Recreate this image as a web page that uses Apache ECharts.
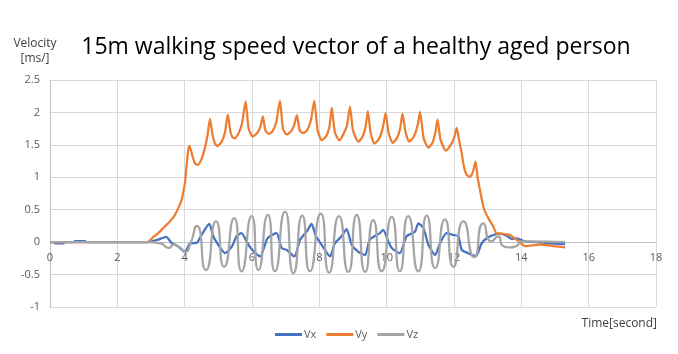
<!DOCTYPE html>
<html>
<head>
<meta charset="utf-8">
<script src="https://cdn.jsdelivr.net/npm/echarts@6/dist/echarts.min.js"></script>
<style>
  html, body { margin: 0; padding: 0; background: #fff; }
  #chart { width: 678px; height: 354px; }
</style>
</head>
<body>
<div id="chart"></div>
<script>
// [time (s), velocity] pairs
const vxPoints = [
  [0, 0], [0.12, 0], [0.15, -0.02], [0.4, -0.02], [0.45, 0], [0.72, 0], [0.74, 0.015], [1.04, 0.015], [1.08, 0],
  [2.87, 0], [3.17, 0.03], [3.45, 0.08], [3.61, -0.01], [3.81, -0.07], [4.01, -0.15], [4.16, -0.02], [4.36, -0.01],
  [4.5, 0.11], [4.73, 0.28], [4.85, 0.09], [4.97, -0.02], [5.2, -0.17], [5.4, -0.07], [5.54, 0.09], [5.69, 0.14],
  [5.84, 0.01], [5.96, -0.09], [6.24, -0.22], [6.44, 0.04], [6.53, 0.09], [6.73, 0.14], [6.88, -0.09], [7.03, -0.12],
  [7.26, -0.22], [7.43, 0.04], [7.62, 0.16], [7.77, 0.28], [7.9, 0.09], [8.04, -0.02], [8.32, -0.22], [8.46, -0.02],
  [8.66, 0.09], [8.81, 0.2], [8.96, -0.04], [9.16, -0.15], [9.36, -0.2], [9.5, 0.04], [9.8, 0.14], [9.9, 0.19],
  [10.05, 0.01], [10.15, -0.09], [10.39, -0.17], [10.59, 0.09], [10.84, 0.16], [10.94, 0.29], [11.09, 0.22],
  [11.24, -0.04], [11.44, -0.2], [11.58, -0.02], [11.78, 0.14], [11.98, 0.11], [12.13, 0.09], [12.23, -0.12],
  [12.42, -0.17], [12.65, -0.22], [12.82, -0.02], [12.97, 0.06], [13.17, 0.11], [13.37, 0.13], [13.56, 0.1],
  [13.71, 0.05], [13.86, 0.06], [14.11, 0.01], [14.45, 0.0], [14.85, -0.02], [15.3, -0.03]
];

const vyPoints = [
  [0, 0], [2.9, 0], [3.07, 0.08], [3.2, 0.13], [3.37, 0.22], [3.51, 0.29], [3.56, 0.32], [3.66, 0.38], [3.76, 0.47],
  [3.85, 0.57], [3.91, 0.65], [3.97, 0.8], [4.01, 0.92], [4.06, 1.19], [4.1, 1.4], [4.14, 1.49], [4.22, 1.35],
  [4.3, 1.22], [4.39, 1.19], [4.5, 1.28], [4.6, 1.45], [4.68, 1.65], [4.75, 1.9], [4.83, 1.65], [4.9, 1.52],
  [4.97, 1.48], [5.1, 1.55], [5.2, 1.7], [5.28, 1.97], [5.36, 1.7], [5.42, 1.62], [5.49, 1.6], [5.6, 1.68],
  [5.7, 1.82], [5.81, 2.17], [5.9, 1.75], [6.02, 1.63], [6.15, 1.68], [6.25, 1.78], [6.32, 1.94], [6.4, 1.72],
  [6.5, 1.67], [6.6, 1.7], [6.72, 1.85], [6.83, 2.18], [6.92, 1.75], [7.03, 1.66], [7.15, 1.7], [7.25, 1.8],
  [7.33, 1.96], [7.42, 1.72], [7.52, 1.68], [7.63, 1.72], [7.75, 1.88], [7.85, 2.18], [7.95, 1.72], [8.07, 1.57],
  [8.2, 1.63], [8.3, 1.78], [8.37, 2.07], [8.46, 1.7], [8.59, 1.57], [8.7, 1.65], [8.82, 1.8], [8.91, 2.09],
  [9.0, 1.72], [9.16, 1.55], [9.28, 1.62], [9.37, 1.77], [9.44, 2.02], [9.52, 1.7], [9.63, 1.52], [9.76, 1.58],
  [9.88, 1.75], [9.97, 1.99], [10.06, 1.68], [10.18, 1.53], [10.3, 1.6], [10.4, 1.75], [10.47, 1.98], [10.56, 1.7],
  [10.67, 1.55], [10.8, 1.62], [10.92, 1.8], [10.99, 2.01], [11.1, 1.6], [11.24, 1.46], [11.35, 1.52], [11.45, 1.7],
  [11.51, 1.89], [11.6, 1.58], [11.76, 1.41], [11.88, 1.48], [12.0, 1.6], [12.08, 1.76], [12.16, 1.55],
  [12.23, 1.37], [12.3, 1.15], [12.37, 1.04], [12.47, 1.01], [12.56, 1.08], [12.64, 1.24], [12.7, 1.0],
  [12.77, 0.81], [12.87, 0.55], [12.95, 0.44], [13.02, 0.37], [13.1, 0.3], [13.17, 0.24], [13.27, 0.13],
  [13.42, 0.13], [13.55, 0.12], [13.66, 0.11], [13.8, 0.06], [13.91, 0.02], [14.11, -0.06], [14.55, -0.04],
  [14.95, -0.06], [15.3, -0.08]
];

const vzPoints = [
  [0, 0], [2.87, 0], [3.27, -0.02], [3.54, -0.09], [3.66, -0.04], [3.85, -0.08], [4.01, -0.15], [4.16, -0.04],
  [4.36, 0.25], [4.63, -0.43], [4.93, 0.32], [5.17, -0.38], [5.47, 0.37], [5.69, -0.45], [5.99, 0.4], [6.19, -0.43],
  [6.47, 0.42], [6.68, -0.45], [6.98, 0.47], [7.23, -0.48], [7.49, 0.41], [7.72, -0.45], [8.04, 0.44], [8.29, -0.47],
  [8.58, 0.4], [8.86, -0.46], [9.11, 0.42], [9.36, -0.46], [9.6, 0.34], [9.85, -0.45], [10.15, 0.39], [10.39, -0.45],
  [10.64, 0.4], [10.94, -0.45], [11.19, 0.41], [11.44, -0.4], [11.73, 0.35], [11.98, -0.38], [12.28, 0.32],
  [12.6, -0.23], [12.87, 0.29], [13.11, 0.01], [13.31, 0.09], [13.46, -0.06], [13.66, -0.08], [13.86, -0.06],
  [14.0, 0.01], [15.3, 0.0]
];

const seriesNames = ["Vx", "Vy", "Vz"];
const seriesColors = ["#4472C4", "#ED7D31", "#A5A5A5"];

const chart = echarts.init(document.getElementById("chart"), null, { renderer: "canvas" });
const font = "'Open Sans', 'Noto Sans', sans-serif";

const makeSeries = (name, data, color, smooth) => ({
  name,
  type: "line",
  data,
  showSymbol: false,
  smooth,
  lineStyle: { color, width: 2.25 },
  itemStyle: { color },
  z: 3
});

chart.setOption({
  backgroundColor: "#fff",
  animation: false,
  title: {
    text: "15m walking speed vector of a healthy aged person",
    left: 351,
    textAlign: "center",
    top: 31,
    textStyle: { fontFamily: font, fontSize: 23, fontWeight: "normal", color: "#000" }
  },
  legend: {
    bottom: 14,
    left: 275,
    padding: 0,
    itemWidth: 27,
    itemHeight: 3,
    itemGap: 10,
    icon: "rect",
    data: seriesNames,
    textStyle: { fontFamily: font, fontSize: 11, color: "#595959", padding: [0, 0, 0, -3] }
  },
  // x axis title sits under the plot, right-aligned with it
  graphic: [{
    type: "text",
    right: 21,
    top: 318,
    style: { text: "Time[second]", font: "12px " + font, fill: "#404040" }
  }],
  grid: { left: 50, right: 22, top: 80, bottom: 47, outerBoundsMode: "none", containLabel: false },
  xAxis: {
    type: "value",
    min: 0,
    max: 18,
    interval: 2,
    // axis crosses at y = 0 like the Excel original (zero sits 65px above the bottom edge)
    offset: -65,
    axisLine: { onZero: false, lineStyle: { color: "#bfbfbf", width: 1 } },
    axisTick: { show: false },
    axisLabel: { fontFamily: font, fontSize: 11, color: "#595959", margin: 10 },
    splitLine: { lineStyle: { color: "#d9d9d9", width: 1 } }
  },
  yAxis: {
    type: "value",
    min: -1,
    max: 2.5,
    interval: 0.5,
    name: "Velocity\n[ms/]",
    nameLocation: "end",
    nameGap: 14,
    nameTextStyle: { fontFamily: font, fontSize: 12, color: "#404040", align: "center", lineHeight: 15, padding: [0, 0, 0, -30] },
    axisLine: { show: true, lineStyle: { color: "#bfbfbf" } },
    axisTick: { show: false },
    axisLabel: { fontFamily: font, fontSize: 11, color: "#595959", margin: 10 },
    splitLine: { lineStyle: { color: "#d9d9d9", width: 1 } }
  },
  series: [
    makeSeries(seriesNames[0], vxPoints, seriesColors[0], 0.2),
    makeSeries(seriesNames[1], vyPoints, seriesColors[1], 0.2),
    makeSeries(seriesNames[2], vzPoints, seriesColors[2], 0.7)
  ]
});
</script>
</body>
</html>
